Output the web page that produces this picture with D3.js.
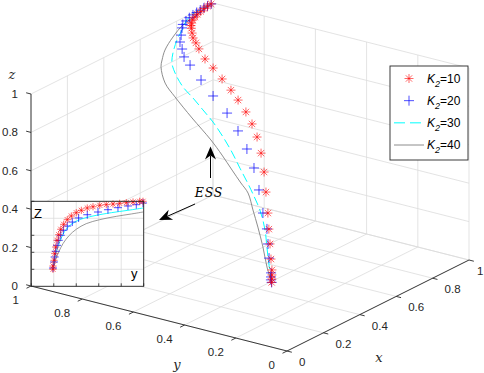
<!DOCTYPE html>
<html>
<head>
<meta charset="utf-8">
<script src="https://cdn.jsdelivr.net/npm/d3@7"></script>
<style>
  body { margin: 0; background: #fff; }
  svg { display: block; }
  .tick-label { font-family: "Liberation Sans", Arial, sans-serif; font-size: 11.5px; fill: #262626; }
  .axis-title { font-family: "DejaVu Serif", "Liberation Serif", serif; font-style: italic; font-size: 13px; fill: #262626; }
</style>
</head>
<body>
<svg id="chart" width="484" height="373"></svg>
<script>
const ticks = [0, 0.2, 0.4, 0.6, 0.8, 1];
const tickLabels = ["0", "0.2", "0.4", "0.6", "0.8", "1"];
const legendNames = ["10", "20", "30", "40"];

// trajectories, [x, y, z]
const k10 = [[0.99,1,1],[0.97,1,0.998],[0.95,0.999,0.995],[0.93,0.998,0.99],[0.91,0.997,0.985],[0.895,0.996,0.978],[0.88,0.994,0.97],[0.87,0.992,0.96],[0.865,0.99,0.95],[0.86,0.985,0.94],[0.843,0.97,0.928],[0.826,0.954,0.916],[0.809,0.931,0.906],[0.789,0.905,0.893],[0.755,0.857,0.873],[0.725,0.804,0.858],[0.687,0.742,0.84],[0.65,0.681,0.82],[0.616,0.629,0.802],[0.576,0.57,0.779],[0.535,0.517,0.754],[0.491,0.466,0.724],[0.437,0.412,0.684],[0.372,0.354,0.636],[0.305,0.299,0.582],[0.234,0.241,0.526],[0.179,0.198,0.483],[0.129,0.158,0.443],[0.078,0.118,0.402],[0.041,0.088,0.373],[0.024,0.076,0.359],[0.01,0.066,0.348],[0,0.06,0.337]];
const k20 = [[0.99,1,1],[0.97,1,0.999],[0.95,1,0.998],[0.93,1,0.996],[0.91,1,0.993],[0.89,1,0.99],[0.87,1,0.985],[0.85,0.999,0.978],[0.83,0.997,0.97],[0.82,0.993,0.958],[0.798,0.981,0.935],[0.775,0.969,0.914],[0.753,0.945,0.896],[0.727,0.919,0.876],[0.701,0.877,0.86],[0.653,0.8,0.831],[0.601,0.716,0.801],[0.547,0.623,0.769],[0.489,0.539,0.732],[0.431,0.463,0.691],[0.37,0.392,0.645],[0.299,0.322,0.588],[0.225,0.254,0.526],[0.174,0.202,0.485],[0.125,0.163,0.443],[0.08,0.127,0.403],[0.032,0.085,0.363],[0.019,0.076,0.351],[0.01,0.07,0.342],[0,0.06,0.337]];
const k30 = [[0.99,1,1],[0.93,1,0.998],[0.89,1,0.995],[0.855,0.999,0.981],[0.823,0.995,0.945],[0.788,0.99,0.911],[0.752,0.98,0.864],[0.725,0.965,0.83],[0.692,0.929,0.805],[0.645,0.865,0.777],[0.609,0.8,0.758],[0.569,0.733,0.738],[0.53,0.666,0.716],[0.48,0.591,0.687],[0.43,0.521,0.656],[0.377,0.452,0.621],[0.331,0.391,0.591],[0.291,0.34,0.565],[0.238,0.275,0.528],[0.172,0.208,0.478],[0.116,0.161,0.432],[0.056,0.11,0.384],[0,0.06,0.337]];
const k40 = [[0.99,1,1],[0.95,1,0.99],[0.91,0.999,0.981],[0.831,0.997,0.967],[0.77,0.993,0.934],[0.715,0.985,0.895],[0.685,0.975,0.861],[0.665,0.965,0.838],[0.616,0.914,0.794],[0.573,0.845,0.766],[0.508,0.732,0.725],[0.44,0.61,0.684],[0.394,0.534,0.653],[0.348,0.462,0.621],[0.308,0.399,0.594],[0.277,0.349,0.573],[0.225,0.293,0.529],[0.172,0.236,0.484],[0.111,0.173,0.431],[0.049,0.113,0.376],[0,0.06,0.337]];

// inset (y-z view), [y, z] normalised to the inset box
const ins10 = [[0.193,0.2],[0.193,0.239],[0.202,0.306],[0.208,0.384],[0.217,0.462],[0.229,0.541],[0.244,0.607],[0.262,0.671],[0.288,0.729],[0.32,0.784],[0.356,0.827],[0.4,0.866],[0.445,0.894],[0.498,0.921],[0.549,0.936],[0.609,0.953],[0.667,0.961],[0.727,0.968],[0.786,0.976],[0.845,0.984],[0.905,0.992],[0.964,1.0],[0.994,1.0]];
const ins20 = [[0.193,0.215],[0.202,0.286],[0.208,0.345],[0.217,0.412],[0.229,0.482],[0.244,0.541],[0.262,0.6],[0.285,0.659],[0.32,0.709],[0.365,0.756],[0.421,0.804],[0.498,0.842],[0.593,0.874],[0.682,0.901],[0.771,0.925],[0.86,0.945],[0.934,0.96],[0.994,0.98]];
const ins30 = [[0.193,0.2],[0.208,0.325],[0.231,0.443],[0.258,0.541],[0.297,0.647],[0.351,0.725],[0.431,0.784],[0.549,0.827],[0.712,0.866],[0.86,0.894],[0.994,0.921]];
const ins40 = [[0.193,0.2],[0.214,0.306],[0.244,0.404],[0.282,0.502],[0.333,0.592],[0.4,0.671],[0.489,0.737],[0.609,0.784],[0.756,0.823],[0.89,0.851],[0.994,0.874]];

const RED = "#ff0000", BLUE = "#0000ff", CYAN = "#00ffff", GREY = "#808080";
const AXIS = "#262626", GRID = "#dcdcdc";

const svg = d3.select("#chart");

// 3-D projection built from linear scales (screen offset per unit of each axis)
const origin = [287, 351];
const xH = d3.scaleLinear().domain([0, 1]).range([0, 182]);
const xV = d3.scaleLinear().domain([0, 1]).range([0, -91]);
const yH = d3.scaleLinear().domain([0, 1]).range([0, -256]);
const yV = d3.scaleLinear().domain([0, 1]).range([0, -65]);
const zV = d3.scaleLinear().domain([0, 1]).range([0, -192]);
const proj = (x, y, z) => [origin[0] + xH(x) + yH(y), origin[1] + xV(x) + yV(y) + zV(z)];

function seg(g, a, b, color, w) {
  return g.append("line")
    .attr("x1", a[0]).attr("y1", a[1])
    .attr("x2", b[0]).attr("y2", b[1])
    .attr("stroke", color).attr("stroke-width", w);
}

// grid on floor and the two back walls
const grid = svg.append("g");
ticks.forEach((t) => {
  seg(grid, proj(t, 0, 0), proj(t, 1, 0), GRID, 0.8);
  seg(grid, proj(0, t, 0), proj(1, t, 0), GRID, 0.8);
  seg(grid, proj(t, 1, 0), proj(t, 1, 1), GRID, 0.8);
  seg(grid, proj(0, 1, t), proj(1, 1, t), GRID, 0.8);
  seg(grid, proj(1, t, 0), proj(1, t, 1), GRID, 0.8);
  seg(grid, proj(1, 0, t), proj(1, 1, t), GRID, 0.8);
});

// axes
const axes = svg.append("g");
seg(axes, proj(0, 0, 0), proj(1, 0, 0), AXIS, 0.9);
seg(axes, proj(0, 0, 0), proj(0, 1, 0), AXIS, 0.9);
seg(axes, proj(0, 1, 0), proj(0, 1, 1), AXIS, 0.9);

const tl = 5;
ticks.forEach((t, i) => {
  // x axis: ticks outward along -y
  let p = proj(t, 0, 0);
  seg(axes, p, [p[0] + 0.969 * tl, p[1] + 0.246 * tl], AXIS, 0.9);
  axes.append("text").attr("class", "tick-label")
    .attr("x", Math.min(p[0] + 12, 477)).attr("y", p[1] + 11)
    .attr("dominant-baseline", "central").text(tickLabels[i]);
  // y axis: ticks outward along -x
  p = proj(0, t, 0);
  seg(axes, p, [p[0] - 0.894 * tl, p[1] + 0.447 * tl], AXIS, 0.9);
  axes.append("text").attr("class", "tick-label")
    .attr("x", p[0] - 12).attr("y", p[1] + 14)
    .attr("text-anchor", "end")
    .attr("dominant-baseline", "central").text(tickLabels[i]);
  // z axis
  p = proj(0, 1, t);
  seg(axes, p, [p[0] - 0.969 * tl, p[1] - 0.246 * tl], AXIS, 0.9);
  axes.append("text").attr("class", "tick-label")
    .attr("x", p[0] - 13).attr("y", p[1])
    .attr("text-anchor", "end")
    .attr("dominant-baseline", "central").text(tickLabels[i]);
});

axes.append("text").attr("class", "axis-title").attr("x", 379).attr("y", 362).attr("text-anchor", "middle").text("x");
axes.append("text").attr("class", "axis-title").attr("x", 177).attr("y", 369).attr("text-anchor", "middle").text("y");
axes.append("text").attr("class", "axis-title").attr("x", 12).attr("y", 79).attr("text-anchor", "middle").text("z");

// markers
const starPath = (r) => {
  const d = r * 0.707;
  return `M${-r},0H${r}M0,${-r}V${r}M${-d},${-d}L${d},${d}M${-d},${d}L${d},${-d}`;
};
const plusPath = (r) => `M${-r},0H${r}M0,${-r}V${r}`;

const line3 = d3.line().curve(d3.curveCatmullRom.alpha(0.5));
const plots = svg.append("g");

plots.append("path").datum(k40.map((d) => proj(...d)))
  .attr("d", line3).attr("fill", "none")
  .attr("stroke", GREY).attr("stroke-width", 0.9);

plots.append("path").datum(k30.map((d) => proj(...d)))
  .attr("d", line3).attr("fill", "none")
  .attr("stroke", CYAN).attr("stroke-width", 1)
  .attr("stroke-dasharray", "9,4");

plots.selectAll(".p20").data(k20).join("path")
  .attr("class", "p20")
  .attr("transform", (d) => `translate(${proj(...d)})`)
  .attr("d", plusPath(5)).attr("fill", "none")
  .attr("stroke", BLUE).attr("stroke-width", 0.7);

plots.selectAll(".p10").data(k10).join("path")
  .attr("class", "p10")
  .attr("transform", (d) => `translate(${proj(...d)})`)
  .attr("d", starPath(4.5)).attr("fill", "none")
  .attr("stroke", RED).attr("stroke-width", 0.6);

// annotations
function arrow(x1, y1, x2, y2) {
  const g = svg.append("g");
  const dx = x2 - x1, dy = y2 - y1, L = Math.hypot(dx, dy);
  const ux = dx / L, uy = dy / L, nx = -uy, ny = ux;
  const hl = 13, hw = 5.5, notch = 9;
  seg(g, [x1, y1], [x2 - ux * notch, y2 - uy * notch], "#000", 1);
  g.append("path")
    .attr("d", `M${x2},${y2}L${x2 - ux * hl + nx * hw},${y2 - uy * hl + ny * hw}` +
      `L${x2 - ux * notch},${y2 - uy * notch}` +
      `L${x2 - ux * hl - nx * hw},${y2 - uy * hl - ny * hw}Z`)
    .attr("fill", "#000");
}
arrow(210.5, 178, 210.5, 146.5);
arrow(195, 204, 159, 220);
svg.append("text")
  .attr("x", 209).attr("y", 196.5)
  .attr("text-anchor", "middle")
  .attr("font-family", "DejaVu Serif, serif")
  .attr("font-style", "italic")
  .attr("font-size", 12.5)
  .attr("letter-spacing", 0.8)
  .attr("fill", "#000")
  .text("ESS");

// inset
const iu = d3.scaleLinear().domain([0, 1]).range([31.3, 143.7]);
const iv = d3.scaleLinear().domain([0, 1]).range([286.3, 201.3]);
const inset = svg.append("g");
inset.append("rect")
  .attr("x", iu(0)).attr("y", iv(1))
  .attr("width", iu(1) - iu(0)).attr("height", iv(0) - iv(1))
  .attr("fill", "#fff");
ticks.forEach((t) => {
  seg(inset, [iu(t), iv(0)], [iu(t), iv(1)], GRID, 0.8);
  seg(inset, [iu(0), iv(t)], [iu(1), iv(t)], GRID, 0.8);
  seg(inset, [iu(t), iv(0)], [iu(t), iv(0) - 3], AXIS, 0.8);
  seg(inset, [iu(0), iv(t)], [iu(0) + 3, iv(t)], AXIS, 0.8);
});
const line2 = d3.line().x((d) => iu(d[0])).y((d) => iv(d[1])).curve(d3.curveCatmullRom.alpha(0.5));
inset.append("path").datum(ins40).attr("d", line2).attr("fill", "none")
  .attr("stroke", GREY).attr("stroke-width", 0.8);
inset.append("path").datum(ins30).attr("d", line2).attr("fill", "none")
  .attr("stroke", CYAN).attr("stroke-width", 0.9);
inset.selectAll(".i20").data(ins20).join("path")
  .attr("class", "i20")
  .attr("transform", (d) => `translate(${iu(d[0])},${iv(d[1])})`)
  .attr("d", plusPath(4)).attr("fill", "none")
  .attr("stroke", BLUE).attr("stroke-width", 0.7);
inset.selectAll(".i10").data(ins10).join("path")
  .attr("class", "i10")
  .attr("transform", (d) => `translate(${iu(d[0])},${iv(d[1])})`)
  .attr("d", starPath(3.6)).attr("fill", "none")
  .attr("stroke", RED).attr("stroke-width", 0.6);
inset.append("rect")
  .attr("x", iu(0)).attr("y", iv(1))
  .attr("width", iu(1) - iu(0)).attr("height", iv(0) - iv(1))
  .attr("fill", "none").attr("stroke", AXIS).attr("stroke-width", 0.9);
inset.append("text").attr("x", 34).attr("y", 217.5)
  .attr("font-family", "Liberation Sans, Arial, sans-serif").attr("font-size", 13)
  .attr("fill", "#000").text("Z");
inset.append("text").attr("x", 131).attr("y", 278)
  .attr("font-family", "Liberation Sans, Arial, sans-serif").attr("font-size", 13)
  .attr("fill", "#000").text("y");

// legend
const lg = svg.append("g");
lg.append("rect").attr("x", 390).attr("y", 66).attr("width", 78).attr("height", 94)
  .attr("fill", "#fff").attr("stroke", AXIS).attr("stroke-width", 0.9);
const rowY = d3.scalePoint().domain(legendNames).range([78.5, 145]);
lg.append("path").attr("transform", `translate(409,${rowY("10")})`)
  .attr("d", starPath(4.5)).attr("fill", "none").attr("stroke", RED).attr("stroke-width", 0.6);
lg.append("path").attr("transform", `translate(409,${rowY("20")})`)
  .attr("d", plusPath(5)).attr("fill", "none").attr("stroke", BLUE).attr("stroke-width", 0.7);
seg(lg, [394, rowY("30")], [423, rowY("30")], CYAN, 1).attr("stroke-dasharray", "11,5");
seg(lg, [394, rowY("40")], [424, rowY("40")], GREY, 0.9);
legendNames.forEach((n) => {
  const t = lg.append("text")
    .attr("x", 427).attr("y", rowY(n) + 4)
    .attr("font-family", "Liberation Sans, Arial, sans-serif")
    .attr("font-size", 12).attr("fill", "#000");
  t.append("tspan").attr("font-style", "italic").text("K");
  t.append("tspan").attr("font-style", "italic").attr("font-size", 9).attr("dy", 4).text("2");
  t.append("tspan").attr("dy", -4).text("=" + n);
});
</script>
</body>
</html>
